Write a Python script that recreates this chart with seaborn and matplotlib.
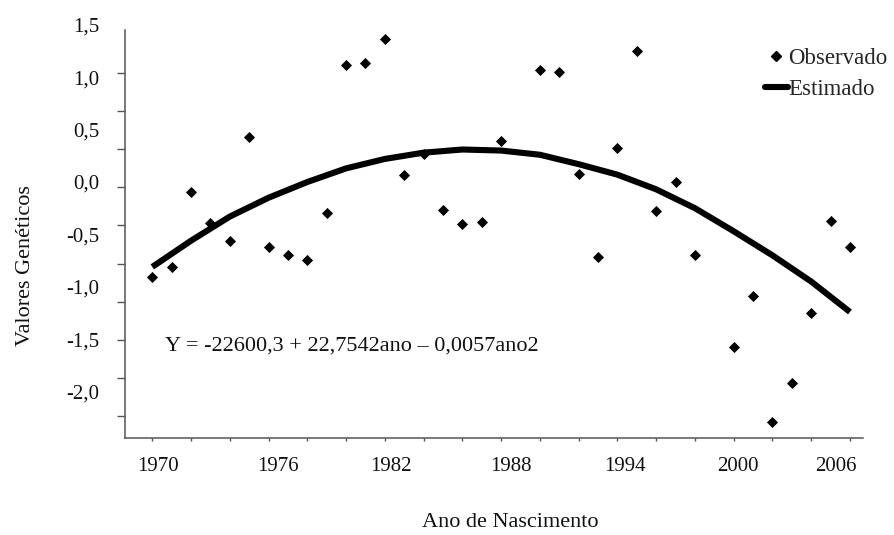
import numpy as np
import pandas as pd
import matplotlib
matplotlib.use("Agg")
import matplotlib.pyplot as plt
import seaborn as sns
from matplotlib.lines import Line2D

# ---- data ----
anos = [1970, 1971, 1972, 1973, 1974, 1975, 1976, 1977, 1978, 1979,
        1980, 1981, 1982, 1983, 1984, 1985, 1986, 1987, 1988,
        1990, 1991, 1992, 1993, 1994, 1995, 1996, 1997, 1998,
        2000, 2001, 2002, 2003, 2004, 2005, 2006]
valores = [-0.91, -0.81, -0.10, -0.39, -0.56, 0.43, -0.62, -0.70, -0.74, -0.30,
           1.12, 1.14, 1.36, 0.07, 0.27, -0.27, -0.40, -0.38, 0.39,
           1.07, 1.05, 0.08, -0.72, 0.32, 1.25, -0.28, 0.00, -0.70,
           -1.57, -1.09, -2.29, -1.92, -1.25, -0.37, -0.62]

# Estimated (fitted) curve
anos_est = [1970, 1972, 1974, 1976, 1978, 1980, 1982, 1984, 1986, 1988,
            1990, 1992, 1994, 1996, 1998, 2000, 2002, 2004, 2006]
valores_est = [-0.81, -0.56, -0.33, -0.15, 0.00, 0.13, 0.22, 0.28, 0.31, 0.30,
               0.26, 0.17, 0.07, -0.07, -0.25, -0.47, -0.70, -0.95, -1.24]

y_tick_values = [1.5, 1.0, 0.5, 0.0, -0.5, -1.0, -1.5, -2.0]
y_tick_labels = ['1,5', '1,0', '0,5', '0,0', '-0,5', '-1,0', '-1,5', '-2,0']
x_tick_labels = ['1970', '1976', '1982', '1988', '1994', '2000', '2006']
equacao = 'Y = -22600,3 + 22,7542ano \u2013 0,0057ano2'
serie_obs = 'Observado'
serie_est = 'Estimado'

# ---- layout (positions, not data) ----
x_label_pos = [1970.27, 1976.46, 1982.33, 1988.52, 1994.40, 2000.19, 2005.25]
x_minor_pos = list(range(1970, 2007, 2))
y_minor_pos = [1.040, 0.676, 0.313, -0.051, -0.415, -0.778, -1.142, -1.506, -1.869, -2.233]

sns.set_theme(style="ticks")
plt.rcParams['font.family'] = ['Liberation Serif', 'DejaVu Serif']
plt.rcParams['axes.linewidth'] = 1.1

fig = plt.figure(figsize=(8.95, 5.35), dpi=100)
W, H = 895, 535
ax = fig.add_axes([125 / W, 1 - 437.7 / H, (863 - 125) / W, (437.7 - 19.6) / H])

df = pd.DataFrame({'ano': anos, 'valor': valores})
df_est = pd.DataFrame({'ano': anos_est, 'valor': valores_est})
sns.lineplot(data=df_est, x='ano', y='valor', color='black', lw=4.4, ax=ax,
             solid_capstyle='butt', solid_joinstyle='round', legend=False)
sns.scatterplot(data=df, x='ano', y='valor', marker='D', s=32, color='black',
                linewidth=0, ax=ax, zorder=3, legend=False)

ax.set_xlim(1968.591, 2006.672)
ax.set_ylim(-2.4399, 1.5496)

sns.despine(ax=ax)
for s in ['left', 'bottom']:
    ax.spines[s].set_color('#555555')
ax.spines['left'].set_bounds(-2.4399, 1.4504)

ax.set_yticks(y_tick_values, labels=y_tick_labels)
ax.set_yticks(y_minor_pos, minor=True)
ax.set_xticks(x_label_pos, labels=x_tick_labels)
ax.set_xticks(x_minor_pos, minor=True)
ax.tick_params(axis='both', which='major', length=0, labelsize=15, labelcolor='#111111')
ax.tick_params(axis='y', which='major', pad=18.5)
ax.tick_params(axis='x', which='major', pad=14)
ax.tick_params(axis='y', which='minor', length=5.8, width=1.0, color='#555555', direction='out')
ax.tick_params(axis='x', which='minor', length=2.5, width=1.0, color='#555555', direction='out')

ax.set_xlabel('Ano de Nascimento', fontsize=16, color='#111111')
ax.set_ylabel('Valores Genéticos', fontsize=16, color='#111111')
ax.xaxis.set_label_coords(0.5217, -0.18)
ax.yaxis.set_label_coords(-0.122, 0.4107)

ax.text(0.0542, 0.2193, equacao, transform=ax.transAxes, ha='left', va='center',
        fontsize=16, color='#111111')

handles = [Line2D([], [], marker='D', linestyle='none', color='black', markersize=5.2),
           Line2D([], [], color='black', lw=4.4)]
ax.legend(handles, [serie_obs, serie_est], loc='upper left',
          bbox_to_anchor=(765 / W, 1 - 48 / H), bbox_transform=fig.transFigure,
          frameon=False, fontsize=16.5, borderpad=0, borderaxespad=0,
          handletextpad=0.0, handlelength=1.0, labelspacing=0.42)

fig.savefig('out.png', dpi=100)
